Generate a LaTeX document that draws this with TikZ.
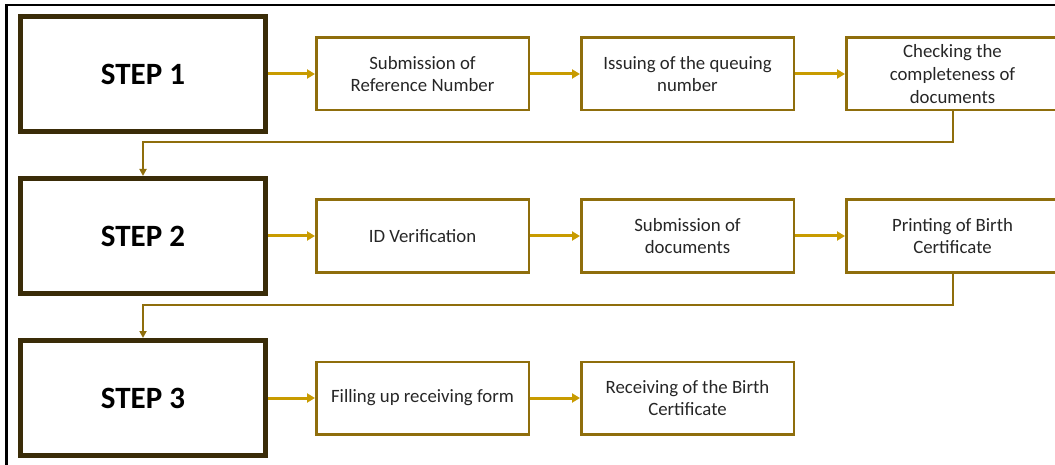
\documentclass[tikz,border=0pt]{standalone}
\usepackage{fontspec}
\setmainfont{Carlito}
\usetikzlibrary{arrows.meta,positioning}

\definecolor{stepbrown}{RGB}{58,44,8}
\definecolor{taskgold}{RGB}{143,110,12}
\definecolor{flowgold}{RGB}{200,155,0}
\definecolor{textgrey}{RGB}{38,38,38}

\begin{document}
\begin{tikzpicture}[x=1pt,y=-1pt,>={Triangle[length=8pt,width=9pt]},
                    node distance=50pt,
                    step node/.style={rectangle,draw=stepbrown,line width=5pt,
                      minimum width=245pt,minimum height=115pt,
                      font=\fontsize{31}{37}\selectfont\bfseries},
                    task node/.style={rectangle,draw=taskgold,line width=2.5pt,
                      minimum width=212.5pt,minimum height=72.5pt,align=center,
                      text=textgrey,font=\fontsize{18.8}{22.8}\selectfont},
                    flow/.style={->,draw=flowgold,line width=3pt},
                    link/.style={->,draw=taskgold,line width=2pt,
                      >={Triangle[length=7pt,width=7pt]}}]

  \clip (0,0) rectangle (1055,465);

  % outer frame of the screenshot
  \draw[line width=2.5pt] (6.5,470) -- (6.5,5) -- (1060,5);

  \node[step node] (step1) at (143,74) {STEP 1};
  \node[step node] (step2) [below=42pt of step1] {STEP 2};
  \node[step node] (step3) [below=42pt of step2] {STEP 3};

  \node[task node] (refno) [right=47pt of step1] {Submission of\\Reference Number};
  \node[task node] (queue) [right=50pt of refno] {Issuing of the queuing\\number};
  \node[task node] (check) [right=50pt of queue] {Checking the\\completeness of\\documents};

  \node[task node] (idver) [right=47pt of step2] {ID Verification};
  \node[task node] (docs)  [right=50pt of idver] {Submission of\\documents};
  \node[task node] (print) [right=50pt of docs] {Printing of Birth\\Certificate};

  \node[task node] (form)  [right=47pt of step3] {Filling up receiving form};
  \node[task node] (recv)  [right=50pt of form] {Receiving of the Birth\\Certificate};

  \draw[flow] (step1) -- (refno);
  \draw[flow] (refno) -- (queue);
  \draw[flow] (queue) -- (check);
  \draw[flow] (step2) -- (idver);
  \draw[flow] (idver) -- (docs);
  \draw[flow] (docs) -- (print);
  \draw[flow] (step3) -- (form);
  \draw[flow] (form) -- (recv);

  \draw[link] (check.south) -- ++(0,31) -| (step2.north);
  \draw[link] (print.south) -- ++(0,31) -| (step3.north);
\end{tikzpicture}
\end{document}
